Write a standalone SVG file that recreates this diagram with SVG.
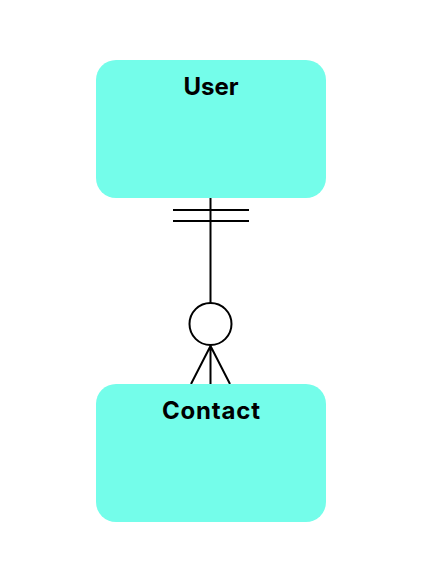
<svg xmlns="http://www.w3.org/2000/svg" width="421" height="575" viewBox="0 0 421 575">
<style>
.box{fill:#74fdea;}
.lbl{font-family:Inter,"Open Sans","Liberation Sans",sans-serif;font-weight:bold;font-size:24px;fill:#000;text-anchor:middle;}
.ln{stroke:#000;stroke-width:2;fill:none;}
</style>
<rect width="421" height="575" fill="#fff"/>
<g id="connectors">
<line class="ln" x1="210.5" y1="198" x2="210.5" y2="303"/>
<line class="ln" x1="173" y1="210" x2="249" y2="210"/>
<line class="ln" x1="173" y1="221" x2="249" y2="221"/>
<circle class="ln" cx="210.5" cy="324" r="21" fill="#fff"/>
<path class="ln" d="M191 384 L210.5 346 L230 384 M210.5 346 L210.5 384"/>
</g>
<g id="user">
<rect class="box" x="96" y="60" width="230" height="138" rx="20"/>
<text class="lbl" x="211" y="95" textLength="55" lengthAdjust="spacing">User</text>
</g>
<g id="contact">
<rect class="box" x="96" y="384" width="230" height="138" rx="20"/>
<text class="lbl" x="211" y="419" textLength="98" lengthAdjust="spacing">Contact</text>
</g>
</svg>
